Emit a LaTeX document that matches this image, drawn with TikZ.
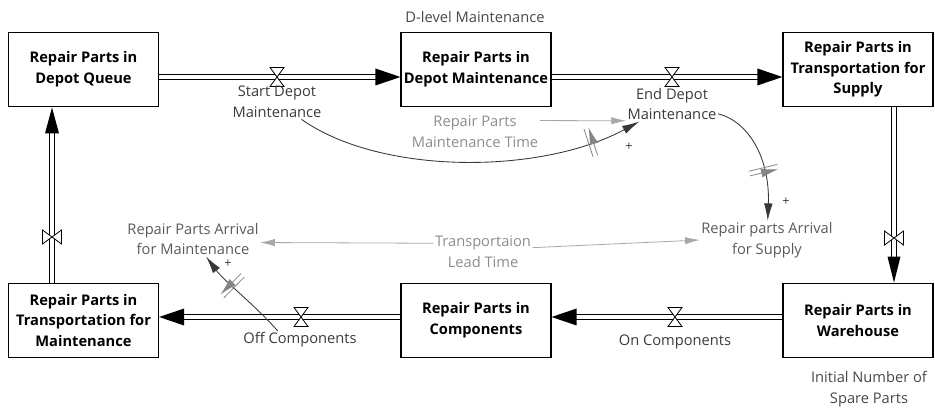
\documentclass[tikz,border=0pt]{standalone}
\usepackage{fontspec}
\IfFontExistsTF{Noto Sans Bold}
  {\setmainfont{Noto Sans}[BoldFont={Noto Sans Bold}]}
  {\IfFontExistsTF{Open Sans Bold}
    {\setmainfont{Open Sans}[BoldFont={Open Sans Bold}]}
    {\setmainfont{Noto Sans}[BoldFont={Noto Sans}, BoldFeatures={FakeBold=2.2}]}}
\usetikzlibrary{arrows.meta,decorations.markings}

\definecolor{flowtxt}{HTML}{3A3A3A}
\definecolor{auxdark}{HTML}{5A5A5A}
\definecolor{auxlight}{HTML}{8C8C8C}
\definecolor{captxt}{HTML}{484848}
\definecolor{linkdark}{HTML}{383838}
\definecolor{linklight}{HTML}{A8A8A8}
\definecolor{hashc}{HTML}{858585}

\tikzset{
  x=0.75pt, y=-0.75pt,
  every node/.style={font=\fontsize{11pt}{15.5pt}\selectfont, align=center, inner sep=1pt},
  stock/.style={draw=black, line width=0.9pt, fill=white, minimum width=112.5pt,
                minimum height=56pt, inner sep=0pt, font=\fontsize{11pt}{15.5pt}\selectfont\bfseries},
  flowlabel/.style={text=flowtxt},
  auxd/.style={text=auxdark},
  auxl/.style={text=auxlight},
  stockcap/.style={text=captxt},
  pipe/.style={draw=black, line width=0.9pt, double=white, double distance=2.8pt},
  tipfill/.style={fill=black},
  linkd/.style={draw=linkdark, line width=0.65pt, -{Latex[length=13pt,width=6.5pt]}},
  linkl/.style={draw=linklight, line width=0.6pt, -{Latex[length=11pt,width=5.5pt]}},
  delay/.style={postaction={decorate, decoration={markings,
      mark=at position #1 with {\draw[hashc, line width=0.6pt]
        (-1.8pt,-11pt) -- (-1.8pt,11pt) (1.8pt,-11pt) -- (1.8pt,11pt);}}}},
  plus/.style={font=\fontsize{9.5pt}{10pt}\selectfont, text=linkdark},
  valveh/.pic={\draw[black, line width=0.6pt, fill=white]
      (-7,-9.5) -- (7,-9.5) -- (-7,9.5) -- (7,9.5) -- cycle;},
  valvev/.pic={\draw[black, line width=0.6pt, fill=white]
      (-9.5,-7) -- (-9.5,7) -- (9.5,-7) -- (9.5,7) -- cycle;}
}

\begin{document}
\begin{tikzpicture}
\useasboundingbox (0,0) rectangle (935,409);

% ---- stocks ----
\node[stock] (q) at (83.5,69.5) {Repair Parts in\\Depot Queue};
\node[stock] (m) at (476,69.5) {Repair Parts in\\Depot Maintenance};
\node[stock] (s) at (858,69.5) {Repair Parts in\\Transportation for\\Supply};
\node[stock] (w) at (858,320.5) {Repair Parts in\\Warehouse};
\node[stock] (c) at (476,320.5) {Repair Parts in\\Components};
\node[stock] (t) at (83.5,320.5) {Repair Parts in\\Transportation for\\Maintenance};

% ---- stock captions ----
\node[stockcap] (dlevel) at (475,17) {D-level Maintenance};
\node[stockcap] (init) at (869,389) {Initial Number of\\Spare Parts};

% ---- flow pipes ----
\draw[pipe, shorten >=17pt] (q.east |- 0,77) -- (m.west |- 0,77);
\fill[tipfill] (m.west |- 0,77) -- ++(-25,-8.5) -- ++(0,17) -- cycle;

\draw[pipe, shorten >=17pt] (m.east |- 0,77) -- (s.west |- 0,77);
\fill[tipfill] (s.west |- 0,77) -- ++(-25,-8.5) -- ++(0,17) -- cycle;

\draw[pipe, shorten >=17pt] (s.south -| 894,0) -- (w.north -| 894,0);
\fill[tipfill] (w.north -| 894,0) -- ++(-6.5,-26) -- ++(13,0) -- cycle;

\draw[pipe, shorten >=17pt] (w.west |- 0,317) -- (c.east |- 0,317);
\fill[tipfill] (c.east |- 0,317) -- ++(25,-8.5) -- ++(0,17) -- cycle;

\draw[pipe, shorten >=17pt] (c.west |- 0,317) -- (t.east |- 0,317);
\fill[tipfill] (t.east |- 0,317) -- ++(25,-8.5) -- ++(0,17) -- cycle;

\draw[pipe, shorten >=17pt] (t.north -| 52,0) -- (q.south -| 52,0);
\fill[tipfill] (q.south -| 52,0) -- ++(-7,26) -- ++(14,0) -- cycle;

% ---- valves ----
\pic at (277,77) {valveh};
\pic at (672,77) {valveh};
\pic at (675,317) {valveh};
\pic at (301,317) {valveh};
\pic at (894,238) {valvev};
\pic at (52,237) {valvev};

% ---- flow labels ----
\node[flowlabel] (sdm) at (277,102) {Start Depot\\Maintenance};
\node[flowlabel] (edm) at (672,104) {End Depot\\Maintenance};
\node[flowlabel] (onc) at (675,342) {On Components};
\node[flowlabel] (offc) at (300,340) {Off Components};

% ---- auxiliaries ----
\node[auxl] (rpmt) at (475,132) {Repair Parts\\Maintenance Time};
\node[auxl] (tlt) at (483,252) {Transportaion\\Lead Time};
\node[auxd] (rpam) at (193,239) {Repair Parts Arrival\\for Maintenance};
\node[auxd] (rpas) at (767,240) {Repair parts Arrival\\for Supply};

% ---- links ----
\draw[linkd, delay=0.85] (sdm) .. controls (380,175) and (540,175) .. (edm);
\draw[linkd, delay=0.6] (edm.-12) .. controls (750,122) and (770,160) .. (rpas);
\draw[linkd, delay=0.62] (offc.158) .. controls (255,305) and (225,282) .. (rpam);
\draw[linkl] (rpmt.10) -- (edm.200);
\draw[linkl] (tlt.170) -- (rpam.-3);
\draw[linkl] (tlt.5) -- (rpas.west);

% ---- link polarities ----
\node[plus] (p1) at (629,147) {+};
\node[plus] (p2) at (786,202) {+};
\node[plus] (p3) at (228,264) {+};
\end{tikzpicture}
\end{document}
